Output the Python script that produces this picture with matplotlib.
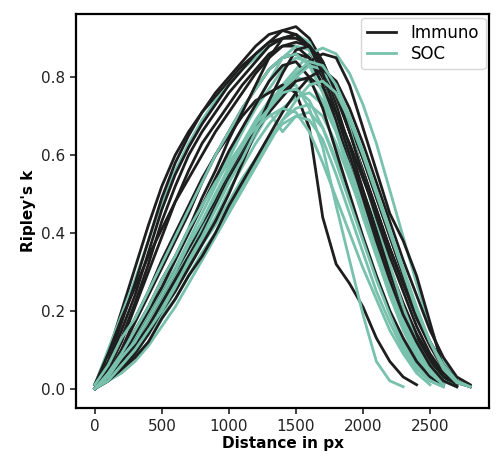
# Ripley's k curves per sample, Immuno vs SOC
import numpy as np
import matplotlib
matplotlib.use('Agg')
import matplotlib.pyplot as plt

plt.rcParams['font.family'] = ['DejaVu Sans']

N = np.nan
# shared distance grid (px), 0..2800 in steps of 100; nan = curve has ended
distance = list(range(0, 2801, 100))

# Ripley's k, one row per sample
immuno_k = [
    [0.01, 0.09, 0.20, 0.31, 0.42, 0.52, 0.60, 0.66, 0.71, 0.75, 0.79, 0.83, 0.86, 0.89, 0.92, 0.93, 0.90, 0.84, 0.76, 0.66, 0.56, 0.46, 0.36, 0.27, 0.19, 0.12, 0.06, 0.02, N],
    [0.01, 0.07, 0.17, 0.27, 0.38, 0.49, 0.58, 0.65, 0.71, 0.76, 0.80, 0.84, 0.88, 0.91, 0.92, 0.91, 0.87, 0.80, 0.71, 0.61, 0.50, 0.40, 0.30, 0.21, 0.13, 0.07, 0.03, 0.01, N],
    [0.00, 0.06, 0.15, 0.24, 0.35, 0.46, 0.55, 0.62, 0.68, 0.73, 0.78, 0.82, 0.86, 0.89, 0.90, 0.90, 0.88, 0.83, 0.76, 0.68, 0.59, 0.49, 0.39, 0.29, 0.20, 0.12, 0.06, 0.02, 0.005],
    [0.01, 0.05, 0.13, 0.22, 0.32, 0.43, 0.52, 0.60, 0.66, 0.71, 0.76, 0.80, 0.84, 0.88, 0.90, 0.91, 0.88, 0.82, 0.73, 0.62, 0.51, 0.40, 0.30, 0.21, 0.14, 0.08, 0.03, 0.01, N],
    [0.01, 0.09, 0.18, 0.26, 0.34, 0.41, 0.48, 0.54, 0.60, 0.66, 0.71, 0.76, 0.81, 0.85, 0.88, 0.88, 0.85, 0.78, 0.69, 0.58, 0.47, 0.36, 0.26, 0.18, 0.11, 0.06, 0.02, 0.005, N],
    [0.00, 0.05, 0.12, 0.21, 0.30, 0.39, 0.48, 0.56, 0.63, 0.68, 0.73, 0.78, 0.82, 0.86, 0.88, 0.89, 0.88, 0.83, 0.75, 0.66, 0.56, 0.46, 0.36, 0.27, 0.18, 0.11, 0.05, 0.02, 0.005],
    [0.00, 0.04, 0.10, 0.18, 0.25, 0.33, 0.40, 0.47, 0.54, 0.60, 0.65, 0.70, 0.74, 0.76, 0.78, 0.76, 0.67, 0.44, 0.32, 0.27, 0.21, 0.13, 0.07, 0.03, 0.01, N, N, N, N],
    [0.00, 0.04, 0.10, 0.17, 0.24, 0.31, 0.38, 0.45, 0.53, 0.60, 0.66, 0.72, 0.77, 0.82, 0.85, 0.86, 0.85, 0.80, 0.72, 0.62, 0.51, 0.41, 0.31, 0.22, 0.14, 0.08, 0.03, 0.01, N],
    [0.00, 0.03, 0.08, 0.14, 0.20, 0.26, 0.33, 0.40, 0.47, 0.54, 0.61, 0.67, 0.73, 0.79, 0.83, 0.84, 0.80, 0.72, 0.61, 0.50, 0.39, 0.29, 0.20, 0.13, 0.07, 0.03, 0.01, N, N],
    [0.00, 0.03, 0.07, 0.12, 0.18, 0.24, 0.30, 0.36, 0.42, 0.48, 0.55, 0.61, 0.67, 0.72, 0.76, 0.80, 0.84, 0.86, 0.85, 0.78, 0.67, 0.56, 0.45, 0.38, 0.29, 0.17, 0.05, 0.015, 0.005],
    [0.00, 0.03, 0.07, 0.11, 0.16, 0.22, 0.28, 0.34, 0.40, 0.47, 0.54, 0.60, 0.66, 0.71, 0.75, 0.79, 0.80, 0.77, 0.71, 0.63, 0.54, 0.45, 0.36, 0.27, 0.19, 0.12, 0.06, 0.02, 0.005],
    [0.00, 0.02, 0.05, 0.09, 0.14, 0.20, 0.25, 0.31, 0.37, 0.43, 0.50, 0.58, 0.66, 0.74, 0.81, 0.87, 0.88, 0.84, 0.76, 0.66, 0.55, 0.44, 0.34, 0.25, 0.16, 0.09, 0.04, 0.01, N],
    [0.00, 0.03, 0.09, 0.15, 0.21, 0.28, 0.34, 0.41, 0.49, 0.56, 0.64, 0.71, 0.78, 0.85, 0.90, 0.91, 0.88, 0.81, 0.71, 0.60, 0.49, 0.38, 0.28, 0.19, 0.12, 0.06, 0.02, 0.005, N],
    [0.00, 0.02, 0.05, 0.08, 0.12, 0.18, 0.23, 0.29, 0.34, 0.40, 0.47, 0.53, 0.59, 0.65, 0.71, 0.76, 0.80, 0.82, 0.79, 0.72, 0.63, 0.53, 0.43, 0.33, 0.24, 0.15, 0.08, 0.03, 0.01],
]

soc_k = [
    [0.01, 0.10, 0.19, 0.28, 0.38, 0.48, 0.56, 0.63, 0.69, 0.74, 0.78, 0.82, 0.85, 0.88, 0.90, 0.91, 0.89, 0.82, 0.71, 0.59, 0.47, 0.35, 0.24, 0.15, 0.08, 0.03, 0.01, N, N],
    [0.00, 0.03, 0.06, 0.10, 0.15, 0.21, 0.27, 0.33, 0.40, 0.46, 0.53, 0.60, 0.67, 0.73, 0.78, 0.82, 0.86, 0.875, 0.86, 0.81, 0.73, 0.63, 0.51, 0.39, 0.27, 0.16, 0.07, 0.02, N],
    [0.00, 0.03, 0.08, 0.14, 0.20, 0.26, 0.33, 0.40, 0.47, 0.54, 0.60, 0.66, 0.72, 0.77, 0.82, 0.85, 0.84, 0.78, 0.68, 0.57, 0.46, 0.35, 0.25, 0.16, 0.09, 0.04, 0.01, N, N],
    [0.00, 0.03, 0.07, 0.12, 0.17, 0.23, 0.29, 0.36, 0.42, 0.49, 0.56, 0.62, 0.68, 0.73, 0.77, 0.80, 0.79, 0.74, 0.66, 0.56, 0.46, 0.35, 0.25, 0.16, 0.09, 0.04, 0.01, N, N],
    [0.00, 0.03, 0.07, 0.11, 0.16, 0.22, 0.28, 0.34, 0.41, 0.47, 0.53, 0.59, 0.65, 0.71, 0.66, 0.70, 0.71, 0.67, 0.59, 0.49, 0.39, 0.29, 0.20, 0.12, 0.06, 0.02, 0.005, N, N],
    [0.00, 0.02, 0.06, 0.09, 0.14, 0.20, 0.26, 0.32, 0.38, 0.44, 0.51, 0.57, 0.63, 0.68, 0.72, 0.75, 0.76, 0.73, 0.66, 0.57, 0.47, 0.37, 0.27, 0.18, 0.11, 0.05, 0.02, 0.005, N],
    [0.00, 0.02, 0.05, 0.08, 0.12, 0.18, 0.23, 0.29, 0.35, 0.40, 0.46, 0.52, 0.58, 0.64, 0.69, 0.72, 0.73, 0.70, 0.63, 0.54, 0.45, 0.35, 0.26, 0.18, 0.11, 0.06, 0.02, 0.005, N],
    [0.00, 0.03, 0.08, 0.13, 0.19, 0.25, 0.31, 0.38, 0.45, 0.52, 0.59, 0.66, 0.73, 0.79, 0.85, 0.88, 0.87, 0.81, 0.71, 0.60, 0.48, 0.37, 0.26, 0.17, 0.10, 0.05, 0.02, 0.005, N],
    [0.00, 0.03, 0.08, 0.12, 0.18, 0.23, 0.30, 0.36, 0.43, 0.50, 0.57, 0.63, 0.69, 0.74, 0.77, 0.78, 0.72, 0.62, 0.47, 0.33, 0.19, 0.07, 0.02, 0.005, N, N, N, N, N],
    [0.00, 0.03, 0.07, 0.11, 0.16, 0.22, 0.28, 0.34, 0.41, 0.47, 0.54, 0.60, 0.66, 0.72, 0.77, 0.80, 0.83, 0.82, 0.76, 0.67, 0.55, 0.43, 0.32, 0.21, 0.12, 0.06, 0.02, 0.005, N],
    [0.00, 0.02, 0.06, 0.09, 0.14, 0.19, 0.25, 0.31, 0.37, 0.42, 0.48, 0.54, 0.59, 0.64, 0.68, 0.70, 0.69, 0.64, 0.55, 0.45, 0.35, 0.25, 0.17, 0.10, 0.05, 0.02, 0.005, N, N],
    [0.01, 0.06, 0.13, 0.18, 0.25, 0.32, 0.39, 0.46, 0.53, 0.60, 0.66, 0.72, 0.77, 0.82, 0.85, 0.86, 0.83, 0.76, 0.66, 0.55, 0.44, 0.34, 0.24, 0.16, 0.09, 0.04, 0.01, N, N],
    [0.00, 0.02, 0.04, 0.07, 0.11, 0.16, 0.21, 0.27, 0.33, 0.39, 0.45, 0.51, 0.57, 0.63, 0.69, 0.74, 0.78, 0.79, 0.76, 0.69, 0.60, 0.50, 0.40, 0.30, 0.20, 0.12, 0.05, 0.015, 0.005],
    [0.00, 0.03, 0.08, 0.12, 0.18, 0.24, 0.30, 0.37, 0.43, 0.50, 0.56, 0.62, 0.68, 0.72, 0.76, 0.77, 0.74, 0.67, 0.58, 0.48, 0.38, 0.28, 0.19, 0.11, 0.05, 0.02, 0.005, N, N],
    [0.00, 0.02, 0.06, 0.10, 0.15, 0.20, 0.26, 0.33, 0.39, 0.46, 0.53, 0.59, 0.66, 0.72, 0.77, 0.81, 0.84, 0.83, 0.78, 0.70, 0.61, 0.51, 0.41, 0.31, 0.21, 0.12, 0.06, 0.02, 0.005],
    [0.00, 0.04, 0.09, 0.15, 0.21, 0.28, 0.34, 0.41, 0.47, 0.53, 0.58, 0.63, 0.67, 0.70, 0.72, 0.71, 0.66, 0.58, 0.49, 0.40, 0.31, 0.23, 0.15, 0.09, 0.04, 0.01, N, N, N],
]

immuno_color = '#1e1e1e'
soc_color = '#78c1ad'

fig = plt.figure(figsize=(5, 4.57), dpi=100)
ax = fig.add_axes([0.152, 0.107, 0.826, 0.862])

# samples are drawn interleaved, as they come
for i in range(max(len(immuno_k), len(soc_k))):
    if i < len(immuno_k):
        ax.plot(distance, immuno_k[i], color=immuno_color, lw=2,
                label='Immuno' if i == 0 else None)
    if i < len(soc_k):
        ax.plot(distance, soc_k[i], color=soc_color, lw=2,
                label='SOC' if i == 0 else None)

ax.set_xlim(-140, 2940)
ax.set_ylim(-0.05, 0.962)
ax.set_xticks([0, 500, 1000, 1500, 2000, 2500])
ax.set_yticks([0.0, 0.2, 0.4, 0.6, 0.8])
ax.tick_params(labelsize=11, width=1.2, length=4, colors='#222222')
for s in ax.spines.values():
    s.set_linewidth(1.6)

ax.set_xlabel('Distance in px', fontsize=11, fontweight='bold', labelpad=2)
ax.set_ylabel("Ripley's k", fontsize=11, fontweight='bold', labelpad=4)

ax.legend(loc='upper right', fontsize=12, handlelength=1.7, borderaxespad=0.2,
          labelspacing=0.15, handletextpad=0.9)

fig.savefig('out.png', dpi=100)
